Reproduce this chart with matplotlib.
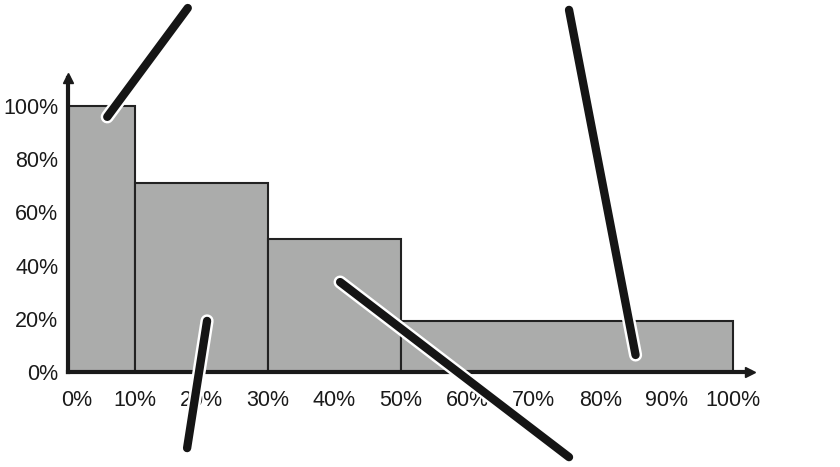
import matplotlib.pyplot as plt
import matplotlib.patheffects as pe
from matplotlib.transforms import ScaledTranslation

plt.rcParams['font.family'] = ['Liberation Sans', 'DejaVu Sans']

# bar edges (share of population, %) and heights (%)
bin_edges = [0, 10, 30, 50, 100]
bin_heights = [100, 71, 50, 19]
x_ticks = list(range(0, 101, 10))
x_labels = [f'{t}%' for t in x_ticks]
y_ticks = [0, 20, 40, 60, 80, 100]
y_labels = [f'{t}%' for t in y_ticks]

# callout pointers: (outer end, inner end) in data units
callouts = [
    ((18.0, 136.8), (5.9, 95.9)),
    ((17.9, -28.6), (20.9, 19.2)),
    ((75.3, -32.0), (40.9, 33.8)),
    ((75.3, 136.1), (85.3, 6.4)),
]

fig = plt.figure(figsize=(8.4, 4.67), dpi=100)
ax = fig.add_axes([68 / 840, 95 / 467, 682 / 840, 294 / 467])

lefts = bin_edges[:-1]
widths = [b - a for a, b in zip(bin_edges[:-1], bin_edges[1:])]
ax.bar(lefts, bin_heights, width=widths, align='edge',
       color='#abacab', edgecolor='#222222', linewidth=1.5, zorder=2)

ax.set_xlim(0, 102.5)
ax.set_ylim(0, 110.5)

for side in ('top', 'right'):
    ax.spines[side].set_visible(False)
for side in ('left', 'bottom'):
    ax.spines[side].set_linewidth(3)
    ax.spines[side].set_color('#1a1a1a')
    ax.spines[side].set_zorder(3)

# arrow heads on the axes
ax.plot(1, 0, marker='>', ms=7, color='#1a1a1a', transform=ax.transAxes, clip_on=False, zorder=3)
ax.plot(0, 1, marker='^', ms=7, color='#1a1a1a', transform=ax.transAxes, clip_on=False, zorder=3)

ax.set_xticks(x_ticks)
ax.set_xticklabels(x_labels)
ax.set_yticks(y_ticks)
ax.set_yticklabels(y_labels)
ax.tick_params(length=0, labelsize=15.5, labelcolor='#1a1a1a')
ax.tick_params(axis='x', pad=13)
ax.tick_params(axis='y', pad=7)

# nudge the 0% label off the vertical axis
first = ax.get_xticklabels()[0]
first.set_transform(first.get_transform() + ScaledTranslation(0.09, 0, fig.dpi_scale_trans))

for (x0, y0), (x1, y1) in callouts:
    ax.plot([x0, x1], [y0, y1], color='#151515', lw=6, solid_capstyle='round',
            clip_on=False, zorder=10,
            path_effects=[pe.Stroke(linewidth=9.5, foreground='white', capstyle='round'),
                          pe.Normal()])

fig.savefig('out.png', dpi=100)
